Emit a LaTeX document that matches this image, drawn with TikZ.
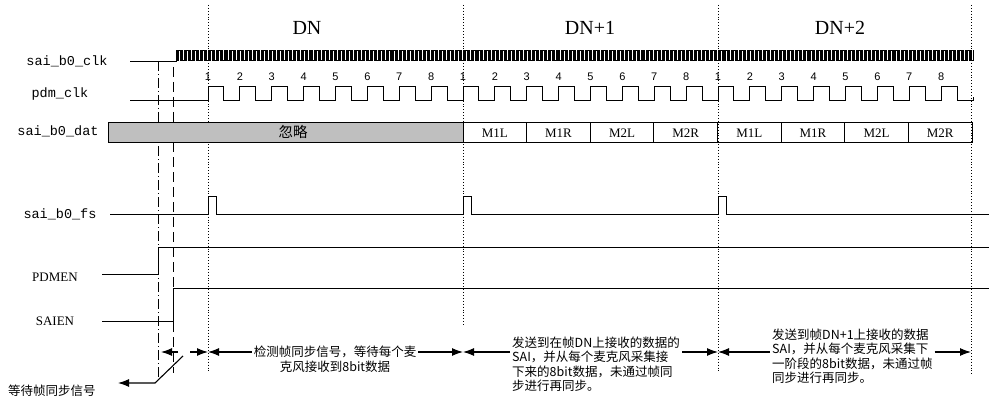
\documentclass[tikz,border=0pt]{standalone}
\usepackage{fontspec}
\setmainfont{Liberation Serif}
\newfontfamily\cjk{Noto Sans CJK SC}
\newfontfamily\sigfont{Liberation Mono}
\newfontfamily\numfont{Liberation Sans}
\usepackage{tikz}
\usetikzlibrary{arrows.meta, positioning, calc}
\tikzstyle{arrow}=[-{Latex[length=11pt, width=8pt]}, line width=1.1pt, color=black]
\tikzstyle{wave}=[line width=1pt, color=black]

\begin{document}
\begin{tikzpicture}[x=1pt, y=-1pt,
  siglabel/.style={font=\sigfont\fontsize{13.5}{13.5}\selectfont, inner sep=0pt},
  enlabel/.style={font=\fontsize{13}{13}\selectfont, inner sep=0pt},
  framelabel/.style={font=\fontsize{20}{20}\selectfont, inner sep=0pt},
  bitnum/.style={font=\numfont\fontsize{11}{11}\selectfont, inner sep=0pt},
  slot/.style={font=\fontsize{13}{13}\selectfont, inner sep=0pt},
  note/.style={font=\cjk\fontsize{12.5}{14.5}\selectfont, inner sep=2pt, align=left},
  boundary/.style={dotted, line width=0.9pt}
]
\useasboundingbox (0,0) rectangle (989,396);

\coordinate (f0) at (208,352);
\coordinate (f1) at (463,352);
\coordinate (f2) at (718,352);
\coordinate (f3) at (971,352);

\node[framelabel] (hdn)  at (307,28) {DN};
\node[framelabel] (hdn1) at (590,28) {DN+1};
\node[framelabel] (hdn2) at (840,28) {DN+2};

\node[siglabel] (lclk)   at (67,61)  {sai\_b0\_clk};
\node[siglabel] (lpdm)   at (60,94)  {pdm\_clk};
\node[siglabel] (ldat)   at (58,131) {sai\_b0\_dat};
\node[siglabel] (lfs)    at (60,214) {sai\_b0\_fs};
\node[enlabel]  (lpdmen) at (55,277) {PDMEN};
\node[enlabel]  (lsaien) at (55,321) {SAIEN};

\draw[boundary] (208,5) -- (208,372);
\draw[boundary] (463,5) -- (463,326);
\draw[boundary] (718,5) -- (718,372);
\draw[boundary] (971,5) -- (971,376);
\draw[line width=0.9pt, dash pattern=on 10pt off 3pt on 1pt off 3pt] (158,61) -- (158,377);
\draw[line width=0.9pt, dash pattern=on 10pt off 5pt] (173,67) -- (173,373);

\draw[line width=0.6pt] (130,61) -- (176,61) -- (176,50)
  \foreach \i in {1,...,300} { -- ++(1.328,0) -- ++(0,10) -- ++(1.328,0) -- ++(0,-10) };

\draw[wave] (130,101) -- (208,101)
  \foreach \i in {1,...,24} { -- ++(0,-14) -- ++(15.9375,0) -- ++(0,14) -- ++(15.9375,0) } -- ++(0,-4);
\foreach \k in {0,...,23} {
  \pgfmathtruncatemacro\b{mod(\k,8)+1}
  \node[bitnum] (b\k) at (208+\k*31.875,77) {\b};
}

\fill[black!25] (108,123) rectangle (463,142);
\draw[wave] (108,123) rectangle (972,142);
\node[font=\cjk\fontsize{14.5}{14.5}\selectfont, inner sep=0pt] (skip) at (293,132) {忽略};
\foreach \s [count=\k from 0] in {M1L,M1R,M2L,M2R,M1L,M1R,M2L,M2R} {
  \draw[wave] (463+\k*63.625,123) -- ++(0,19);
  \node[slot] (s\k) at (463+\k*63.625+31.8,133) {\s};
}

\draw[wave] (110,214) -- (208,214) -- ++(0,-18) -- ++(8,0) -- ++(0,18)
  -- (463,214) -- ++(0,-18) -- ++(8,0) -- ++(0,18)
  -- (718,214) -- ++(0,-18) -- ++(8,0) -- ++(0,18) -- (989,214);
\draw[wave] (102,274) -- (158,274) -- (158,247) -- (989,247);
\draw[wave] (102,321) -- (173,321);
\draw[wave] (173,332) -- (173,288) -- (989,288);

\node[note, align=center] (n0) at (335,359) {检测帧同步信号，等待每个麦\\克风接收到8bit数据};
\node[note, anchor=west] (n1) at (510,364) {发送到在帧DN上接收的数据的\\SAI，并从每个麦克风采集接\\下来的8bit数据，未通过帧同\\步进行再同步。};
\node[note, anchor=west] (n2) at (770,356) {发送到帧DN+1上接收的数据\\SAI，并从每个麦克风采集下\\一阶段的8bit数据，未通过帧\\同步进行再同步。};
\node[note, align=center] (wait) at (52,391) {等待帧同步信号};

\coordinate (w0) at (161,352);
\coordinate (w1) at (178,352);
\coordinate (w2) at (190,352);
\coordinate (wg) at (183,356);
\coordinate (wb) at (155,383);
\coordinate (wt) at (118,383);

\draw[arrow] (w1) -- (w0);
\draw[arrow] (w2) -- (f0);
\draw[arrow] (wg) -- (wb) -- (wt);
\draw[arrow] (n0.west |- f0) -- (f0);
\draw[arrow] (n0.east |- f1) -- (f1);
\draw[arrow] (n1.west |- f1) -- (f1);
\draw[arrow] (n1.east |- f2) -- (f2);
\draw[arrow] (n2.west |- f2) -- (f2);
\draw[arrow] (n2.east |- f3) -- (f3);
\end{tikzpicture}
\end{document}
